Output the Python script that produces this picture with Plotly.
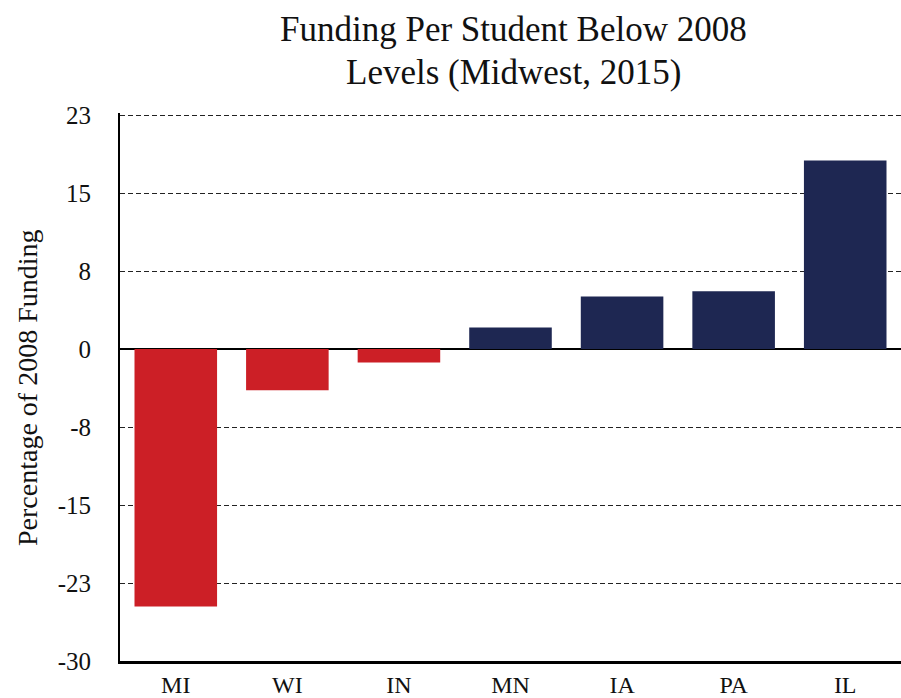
import plotly.graph_objects as go

states = ["MI", "WI", "IN", "MN", "IA", "PA", "IL"]
values = [-25.0, -4.0, -1.3, 2.1, 5.1, 5.6, 18.3]
tick_labels = ["-30", "-23", "-15", "-8", "0", "8", "15", "23"]

step = 53 / 7.0
tick_vals = [step * k for k in range(-4, 4)]

RED = "#cc1f26"
NAVY = "#1e2752"
colors = [RED if v < 0 else NAVY for v in values]

FONT = "Liberation Serif, Times New Roman, serif"

fig = go.Figure(go.Bar(
    x=states, y=values, marker=dict(color=colors, line=dict(width=0)),
    width=0.74,
))

W, H = 901, 698
L, R, T, B = 120, 0, 113, 37
PW, PH = W - L - R, H - T - B

fig.update_layout(
    width=W, height=H,
    margin=dict(l=L, r=R, t=T, b=B, autoexpand=False),
    paper_bgcolor="white", plot_bgcolor="white",
    showlegend=False,
    font=dict(family=FONT, color="#111111"),
    xaxis=dict(
        range=[-0.5, 6.5], automargin=False,
        showline=True, linecolor="black", linewidth=3,
        showgrid=False, ticks="",
        tickfont=dict(family=FONT, size=24, color="#111111"),
        ticklabelstandoff=0,
    ),
    yaxis=dict(
        range=[tick_vals[0], tick_vals[-1] + 0.2], automargin=False,
        tickvals=tick_vals, ticktext=tick_labels,
        showline=True, linecolor="black", linewidth=2,
        showgrid=True, gridcolor="#222222", gridwidth=1, griddash="5px,3px",
        zeroline=True, zerolinecolor="black", zerolinewidth=2,
        ticks="",
        tickfont=dict(family=FONT, size=25, color="#111111"),
        ticklabelstandoff=22,
    ),
    bargap=0.26,
)

# Title (two lines), centred over the plot area
title_lines = ["Funding Per Student Below 2008", "Levels (Midwest, 2015)"]
title_y_px = [30, 72]
for line, ypx in zip(title_lines, title_y_px):
    fig.add_annotation(
        text=line,
        xref="paper", yref="paper",
        x=(513 - L) / PW,
        y=(H - B - ypx) / PH,
        xanchor="center", yanchor="middle",
        showarrow=False,
        font=dict(family=FONT, size=35, color="#111111"),
    )

fig.add_annotation(
    text="Percentage of 2008 Funding",
    xref="paper", yref="paper",
    x=(27 - L) / PW, y=(H - B - 388) / PH,
    xanchor="center", yanchor="middle",
    textangle=-90, showarrow=False,
    font=dict(family=FONT, size=28, color="#111111"),
)

fig.write_html(
    "out.html",
    config={"displayModeBar": False},
    post_script="document.body.style.margin='0';document.body.style.padding='0';",
)
